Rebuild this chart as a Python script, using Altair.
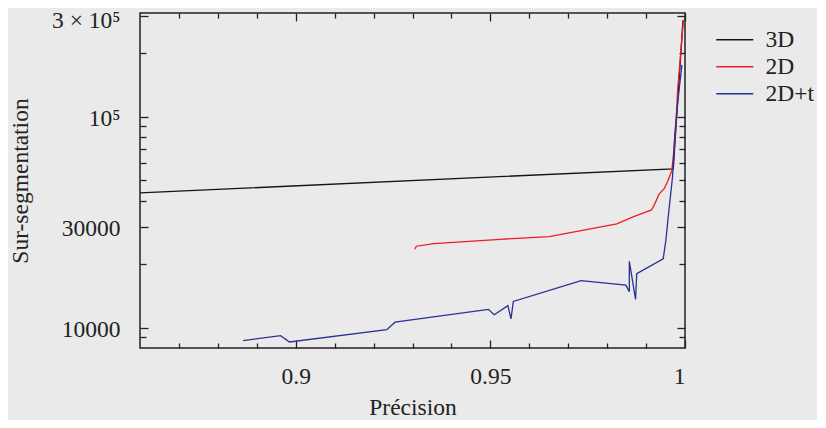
import altair as alt
import pandas as pd

# ---- data ----
names = ["3D", "2D", "2D+t"]
colors = ["#141414", "#EE1C25", "#2A3196"]

x_3d = [0.86, 0.99699, 0.99948]
y_3d = [43500, 56600, 286000]

x_2d = [0.9306, 0.9310, 0.9355, 0.9525, 0.9651, 0.9825, 0.9868, 0.9914, 0.9923,
        0.9933, 0.9947, 0.9955, 0.9966, 0.9970, 0.9977, 0.9981, 0.9996]
y_2d = [23500, 24300, 25000, 26200, 27000, 31000, 33600, 36100, 38800,
        42800, 45700, 49100, 55400, 64600, 92900, 133500, 287000]

x_2dt = [0.8865, 0.8961, 0.8984, 0.9234, 0.9255, 0.9495, 0.9510, 0.9545, 0.9553,
         0.9559, 0.9733, 0.9848, 0.9857, 0.9857, 0.9873, 0.9876, 0.9944, 0.9951,
         0.9957, 0.9968, 0.9974, 0.9980, 0.9992]
y_2dt = [8670, 9150, 8540, 9770, 10600, 12200, 11500, 12700, 11000,
         13300, 16700, 15900, 14800, 20600, 13600, 18000, 21200, 26000,
         33600, 51900, 83300, 111300, 175900]

x_major = [0.9, 0.95, 1.0]
x_minor = [0.87, 0.88, 0.89, 0.91, 0.92, 0.93, 0.94, 0.96, 0.97, 0.98, 0.99]
y_major = [10000, 30000, 100000]
y_top = [300000]
y_ticks_major = [10000, 30000, 100000, 300000]
y_minor = [9000, 20000, 40000, 50000, 60000, 70000, 80000, 90000, 200000]

x_label_expr = "datum.value == 1 ? '1' : (abs(datum.value - 0.9) < 1e-9 ? '0.9' : '0.95')"
y_label_expr = "datum.value == 100000 ? '10⁵' : (datum.value == 30000 ? '30000' : '10000')"
y_top_expr = "'3 × 10⁵'"

rows = []
idx = 0
for name, xs, ys in [("3D", x_3d, y_3d), ("2D", x_2d, y_2d), ("2D+t", x_2dt, y_2dt)]:
    for xv, yv in zip(xs, ys):
        rows.append({"series": name, "x": xv, "y": yv, "idx": idx})
        idx += 1
df = pd.DataFrame(rows)

FONT = "Liberation Serif"
FS = 23.5
TXT = "#222222"

xscale = alt.Scale(domain=[0.86, 1.0], nice=False, zero=False)
yscale = alt.Scale(type="log", domain=[8000, 310000], nice=False)

common = dict(domain=False, grid=False, tickColor=TXT, tickWidth=1.3)


def axis_layer(xaxis, yaxis):
    return alt.Chart(df).mark_point(opacity=0).encode(
        x=alt.X("x:Q", scale=xscale, axis=xaxis),
        y=alt.Y("y:Q", scale=yscale, axis=yaxis),
    )


bottom_major = alt.Axis(orient="bottom", values=x_major, labelExpr=x_label_expr,
                        offset=-8, tickSize=8, labelPadding=16, title="Précision",
                        titlePadding=8, **common)
bottom_minor = alt.Axis(orient="bottom", values=x_minor, labels=False,
                        offset=-5, tickSize=5, title=None, **common)
top_major = alt.Axis(orient="top", values=x_major, labels=False,
                     offset=-8, tickSize=8, title=None, **common)
top_minor = alt.Axis(orient="top", values=x_minor, labels=False,
                     offset=-5, tickSize=5, title=None, **common)

left_major = alt.Axis(orient="left", values=y_major, labelExpr=y_label_expr,
                      offset=-8, tickSize=8, labelPadding=20, labelOffset=1.5,
                      title="Sur-segmentation", titlePadding=29, **common)
left_top = alt.Axis(orient="left", values=y_top, labelExpr=y_top_expr,
                    offset=-8, tickSize=8, labelPadding=20, labelOffset=4.5,
                    title=None, **common)
left_minor = alt.Axis(orient="left", values=y_minor, labels=False,
                      offset=-6, tickSize=6, title=None, **common)
right_major = alt.Axis(orient="right", values=y_ticks_major, labels=False,
                       offset=-8, tickSize=8, title=None, **common)
right_minor = alt.Axis(orient="right", values=y_minor, labels=False,
                       offset=-6, tickSize=6, title=None, **common)

lines = alt.Chart(df).mark_line(strokeWidth=1.3, clip=True).encode(
    x=alt.X("x:Q", scale=xscale, axis=None),
    y=alt.Y("y:Q", scale=yscale, axis=None),
    color=alt.Color(
        "series:N",
        scale=alt.Scale(domain=names, range=colors),
        sort=names,
        legend=alt.Legend(
            title=None, orient="none", legendX=583, legendY=15, padding=0,
            symbolType="M-2,0H2", symbolSize=342, symbolStrokeWidth=1.3,
            labelFont=FONT, labelFontSize=FS, labelColor=TXT, labelOffset=19,
            rowPadding=2,
        ),
    ),
    order=alt.Order("idx:Q"),
)

chart = alt.layer(
    axis_layer(bottom_major, left_major),
    axis_layer(bottom_minor, left_minor),
    axis_layer(top_major, right_major),
    axis_layer(top_minor, right_minor),
    axis_layer(None, left_top),
    lines,
).resolve_axis(x="independent", y="independent").properties(
    width=545, height=335,
    autosize=alt.AutoSizeParams(type="none"),
    padding={"left": 132, "top": 5, "right": 132, "bottom": 72},
).configure(
    background="#E9EAE9", font=FONT,
).configure_view(
    stroke=TXT, strokeWidth=1.5,
).configure_axis(
    labelFont=FONT, labelFontSize=FS, labelColor=TXT,
    titleFont=FONT, titleFontSize=FS, titleFontWeight="normal", titleColor=TXT,
)

chart.save("out.html", embed_options={"renderer": "svg", "actions": False})
